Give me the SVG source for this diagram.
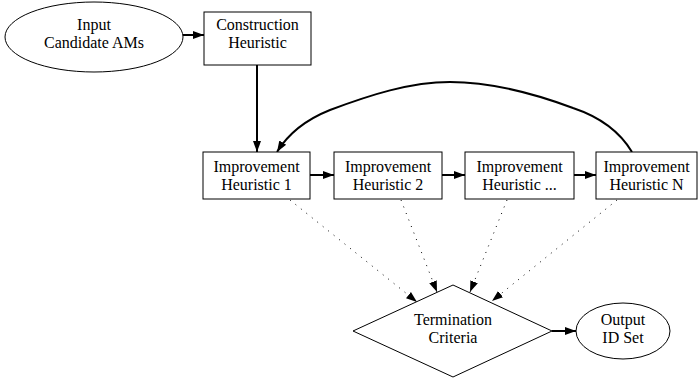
<svg xmlns="http://www.w3.org/2000/svg" width="699" height="380" viewBox="0 0 699 380">
<style>
.n{fill:#fff;stroke:#000;stroke-width:1}
.t{font-family:"Liberation Serif","Times New Roman",serif;font-size:16px;fill:#000;text-anchor:middle}
.e{fill:none;stroke:#000;stroke-width:2}
.d{fill:none;stroke:#000;stroke-width:1;stroke-dasharray:1,6}
</style>
<defs>
<marker id="ah" markerUnits="userSpaceOnUse" markerWidth="12" markerHeight="10" refX="11" refY="4" orient="auto" viewBox="0 0 12 8">
<path d="M0,0 L11,4 L0,8 Z" fill="#000"/>
</marker>
</defs>
<rect width="699" height="380" fill="#fff"/>
<g id="connectors">
<path class="e" d="M183,35 L204,35" marker-end="url(#ah)"/>
<path class="e" d="M257,65 L257,152" marker-end="url(#ah)"/>
<path class="e" d="M632,152 C620,132 600,117 573,108 C530,92 490,82 450,82 C410,82 370,95 330,110 C305,120 288,134 277,152" marker-end="url(#ah)"/>
<path class="e" d="M310,175 L334,175" marker-end="url(#ah)"/>
<path class="e" d="M442,175 L465,175" marker-end="url(#ah)"/>
<path class="e" d="M574,175 L596,175" marker-end="url(#ah)"/>
<path class="d" d="M290,200 L417,302" marker-end="url(#ah)"/>
<path class="d" d="M401,200 L437,292" marker-end="url(#ah)"/>
<path class="d" d="M507,200 L470,292" marker-end="url(#ah)"/>
<path class="d" d="M617,200 L492,301" marker-end="url(#ah)"/>
<path class="e" d="M552,331 L576,331" marker-end="url(#ah)"/>
</g>
<g id="input">
<ellipse class="n" cx="94" cy="37" rx="89" ry="35"/>
<text class="t" x="94" y="30">Input</text>
<text class="t" x="94" y="48">Candidate AMs</text>
</g>
<g id="construction">
<rect class="n" x="204" y="12" width="107" height="53"/>
<text class="t" x="257.5" y="30">Construction</text>
<text class="t" x="257.5" y="48">Heuristic</text>
</g>
<g id="imp1">
<rect class="n" x="203" y="152" width="107" height="47"/>
<text class="t" x="256.5" y="172">Improvement</text>
<text class="t" x="256.5" y="190">Heuristic 1</text>
</g>
<g id="imp2">
<rect class="n" x="334" y="152" width="108" height="47"/>
<text class="t" x="388" y="172">Improvement</text>
<text class="t" x="388" y="190">Heuristic 2</text>
</g>
<g id="imp3">
<rect class="n" x="465" y="152" width="109" height="47"/>
<text class="t" x="519.5" y="172">Improvement</text>
<text class="t" x="519.5" y="190">Heuristic ...</text>
</g>
<g id="impN">
<rect class="n" x="596" y="152" width="101" height="47"/>
<text class="t" x="646.5" y="172">Improvement</text>
<text class="t" x="646.5" y="190">Heuristic N</text>
</g>
<g id="termination">
<polygon class="n" points="453,285 552,331 453,377 353,331"/>
<text class="t" x="453" y="325">Termination</text>
<text class="t" x="453" y="343">Criteria</text>
</g>
<g id="output">
<ellipse class="n" cx="623" cy="331" rx="47" ry="28"/>
<text class="t" x="623" y="325">Output</text>
<text class="t" x="623" y="343">ID Set</text>
</g>
</svg>
